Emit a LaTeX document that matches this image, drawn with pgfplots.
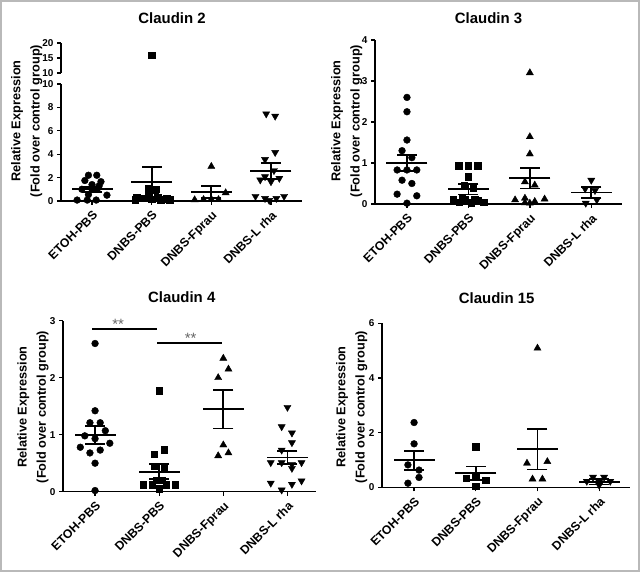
\documentclass[border=0pt]{standalone}
\usepackage{pgfplots}
\pgfplotsset{compat=1.18}
\usepackage{fontspec}
\setmainfont{Liberation Sans}
\newcommand\numfont{\fontsize{10}{12}\selectfont\bfseries}
\newcommand\labfont{\fontsize{12.3}{14}\selectfont\bfseries}
\newcommand\ylabfont{\fontsize{12.8}{19.5}\selectfont\bfseries}
\newcommand\titfont{\fontsize{15}{18}\selectfont\bfseries}
\pgfplotsset{
  panel/.style={
    scale only axis, anchor=south west,
    axis x line*=bottom, axis y line*=left,
    axis line style={line width=1.5bp, black},
    enlargelimits=false, clip=false,
    xtick={1,2,3,4},
    xticklabels={ETOH-PBS,DNBS-PBS,DNBS-Fprau,DNBS-L rha},
    xticklabel style={rotate=45, anchor=north east, font=\labfont},
    tick align=outside, major tick length=4bp,
    tick style={line width=1.3bp, black},
    yticklabel style={font=\numfont},
    /pgf/number format/assume math mode=true,
  },
  g1/.style={black, only marks, mark=*, mark size=3.4bp},
  g2/.style={black, only marks, mark=square*, mark size=3.2bp},
  g3/.style={black, only marks, mark=triangle*, mark size=4.1bp},
  g4/.style={black, only marks, mark=triangle*, mark size=4.1bp, mark options={rotate=180}},
  mean/.style={black, only marks, mark=-, mark size=20.5bp, mark options={line width=1.8bp}},
  sem/.style={black, line width=1.8bp, mark=-, mark size=10bp, mark options={line width=1.8bp}},
}
\begin{document}
\begin{tikzpicture}[x=1bp,y=1bp]
\useasboundingbox (0,0) rectangle (640,572);
\draw[gray!55, line width=2bp] (1,1) rectangle (639,571);

% ---------------- Claudin 2 (broken axis) ----------------
\begin{axis}[panel, at={(61bp,371bp)}, width=241bp, height=117bp,
  xmin=0.48, xmax=4.52, ymin=0, ymax=10, ytick={0,2,4,6,8,10}]
\addplot[g1] coordinates {(0.94,2.2) (1.08,2.2) (0.88,1.75) (1.15,1.65) (1.0,1.4) (1.12,1.3) (0.83,1.0) (1.0,1.0) (1.09,1.05) (0.94,0.55) (1.25,0.5) (0.75,0.08) (0.92,0.08) (1.07,0.08)};
\addplot[g2] coordinates {(1.95,1.05) (2.08,1.0) (2.05,0.9) (1.75,0.3) (1.85,0.25) (1.95,0.4) (2.1,0.3) (2.25,0.2) (2.3,0.1) (1.72,0.1) (2.0,0.15) (2.15,0.1)};
\addplot[g3] coordinates {(3.0,2.95) (3.24,0.7) (2.72,0.1) (2.87,0.12) (3.0,0.15) (3.12,0.12)};
\addplot[g4] coordinates {(3.92,7.45) (4.07,7.25) (4.07,4.15) (3.9,3.55) (4.05,2.6) (3.9,2.08) (4.14,1.94) (3.82,1.8) (4.0,1.65) (3.74,0.4) (3.9,0.22) (3.97,0.05) (4.09,0.22) (4.22,0.4)};
\addplot[mean] coordinates {(1,1.0) (2,1.65) (3,0.77) (4,2.54)};
\addplot[sem] coordinates {(1,0.8) (1,1.2)};
\addplot[sem] coordinates {(2,0.37) (2,2.93)};
\addplot[sem] coordinates {(3,0.23) (3,1.31)};
\addplot[sem] coordinates {(4,1.86) (4,3.22)};
\end{axis}
\begin{axis}[panel, at={(61bp,499bp)}, width=241bp, height=30bp,
  axis x line=none,
  xmin=0.48, xmax=4.52, ymin=10, ymax=20, ytick={10,15,20}]
\addplot[g2] coordinates {(2.0,16.0)};
\end{axis}
\node[font=\titfont] at (172,554) {Claudin 2};
\node[rotate=90, align=center, font=\ylabfont] at (26.7,451) {Relative Expression\\(Fold over control group)};

% ---------------- Claudin 3 ----------------
\begin{axis}[panel, at={(375bp,368bp)}, width=247bp, height=164bp,
  xmin=0.48, xmax=4.5, ymin=0, ymax=4, ytick={0,1,2,3,4}]
\addplot[g1] coordinates {(1.0,2.6) (1.0,2.25) (1.0,1.56) (0.92,1.3) (1.08,1.13) (0.84,0.83) (1.0,0.83) (1.16,0.83) (0.92,0.58) (1.08,0.5) (0.84,0.24) (1.16,0.2) (1.0,0.02)};
\addplot[g2] coordinates {(1.84,0.93) (2.0,0.93) (2.15,0.93) (2.0,0.67) (1.93,0.45) (2.08,0.4) (1.75,0.1) (1.85,0.05) (1.95,0.12) (2.05,0.03) (2.15,0.08) (2.25,0.05) (1.9,0.15) (2.1,0.12)};
\addplot[g3] coordinates {(3.0,3.2) (3.0,1.64) (3.0,1.22) (2.92,0.54) (3.08,0.46) (2.76,0.1) (2.92,0.03) (3.08,0.06) (3.24,0.12) (2.92,0.14) (3.0,0.02)};
\addplot[g4] coordinates {(4.0,0.58) (3.9,0.37) (4.06,0.33) (4.09,0.1) (3.91,0.02)};
\addplot[mean] coordinates {(1,1.0) (2,0.36) (3,0.63) (4,0.28)};
\addplot[sem] coordinates {(1,0.8) (1,1.2)};
\addplot[sem] coordinates {(2,0.23) (2,0.49)};
\addplot[sem] coordinates {(3,0.38) (3,0.88)};
\addplot[sem] coordinates {(4,0.15) (4,0.41)};
\end{axis}
\node[font=\titfont] at (488.5,554) {Claudin 3};
\node[rotate=90, align=center, font=\ylabfont] at (346.7,451) {Relative Expression\\(Fold over control group)};

% ---------------- Claudin 4 ----------------
\begin{axis}[panel, at={(63bp,80.3bp)}, width=253.3bp, height=171bp,
  xmin=0.5, xmax=4.45, ymin=0, ymax=3, ytick={0,1,2,3}]
\addplot[g1] coordinates {(1.0,2.6) (1.0,1.42) (0.92,1.21) (1.08,1.21) (1.16,1.07) (0.84,0.98) (1.0,0.93) (0.77,0.78) (0.92,0.68) (1.08,0.73) (1.23,0.85) (1.0,0.5) (1.0,0.02)};
\addplot[g2] coordinates {(2.0,1.77) (1.92,0.66) (2.08,0.74) (1.93,0.45) (2.08,0.42) (1.75,0.12) (1.89,0.12) (2.0,0.05) (2.11,0.12) (2.25,0.12) (1.95,0.2) (2.05,0.2)};
\addplot[g3] coordinates {(3.0,2.34) (3.08,2.15) (2.92,2.0) (3.0,0.82) (2.92,0.63) (3.08,0.68)};
\addplot[g4] coordinates {(4.0,1.48) (3.91,1.14) (4.07,1.03) (4.07,0.86) (3.91,0.73) (3.74,0.51) (3.91,0.51) (4.07,0.48) (4.22,0.51) (4.07,0.41) (3.74,0.15) (3.91,0.03) (4.07,0.13) (4.22,0.19)};
\addplot[mean] coordinates {(1,0.99) (2,0.35) (3,1.45) (4,0.6)};
\addplot[sem] coordinates {(1,0.83) (1,1.15)};
\addplot[sem] coordinates {(2,0.22) (2,0.49)};
\addplot[sem] coordinates {(3,1.11) (3,1.78)};
\addplot[sem] coordinates {(4,0.49) (4,0.71)};
\addplot[black, line width=1.6bp] coordinates {(0.96,2.85) (1.97,2.85)};
\addplot[black, line width=1.6bp] coordinates {(1.97,2.61) (2.98,2.61)};
\node[anchor=south, inner sep=0pt, text=black!60, font=\fontsize{15}{16}\selectfont] at (axis cs:1.36,2.84) {**};
\node[anchor=south, inner sep=0pt, text=black!60, font=\fontsize{15}{16}\selectfont] at (axis cs:2.49,2.60) {**};
\end{axis}
\node[font=\titfont] at (181.7,275.3) {Claudin 4};
\node[rotate=90, align=center, font=\ylabfont] at (33,165) {Relative Expression\\(Fold over control group)};

% ---------------- Claudin 15 ----------------
\begin{axis}[panel, at={(382bp,84.7bp)}, width=248bp, height=164bp,
  xmin=0.48, xmax=4.5, ymin=0, ymax=6, ytick={0,2,4,6}]
\addplot[g1] coordinates {(1.0,2.37) (1.0,1.59) (0.9,0.82) (1.08,0.63) (1.08,0.36) (0.9,0.15)};
\addplot[g2] coordinates {(2.0,1.49) (1.84,0.33) (2.0,0.4) (2.16,0.27) (2.0,0.03)};
\addplot[g3] coordinates {(3.0,5.09) (2.83,0.88) (3.16,0.94) (2.92,0.3) (3.08,0.3)};
\addplot[g4] coordinates {(3.8,0.22) (3.9,0.37) (4.0,0.2) (4.08,0.37) (4.18,0.22) (4.0,0.08)};
\addplot[mean] coordinates {(1,1.0) (2,0.52) (3,1.4) (4,0.2)};
\addplot[sem] coordinates {(1,0.62) (1,1.32)};
\addplot[sem] coordinates {(2,0.28) (2,0.76)};
\addplot[sem] coordinates {(3,0.65) (3,2.14)};
\addplot[sem] coordinates {(4,0.1) (4,0.3)};
\end{axis}
\node[font=\titfont] at (496.7,273.7) {Claudin 15};
\node[rotate=90, align=center, font=\ylabfont] at (351.7,165) {Relative Expression\\(Fold over control group)};
\end{tikzpicture}
\end{document}
